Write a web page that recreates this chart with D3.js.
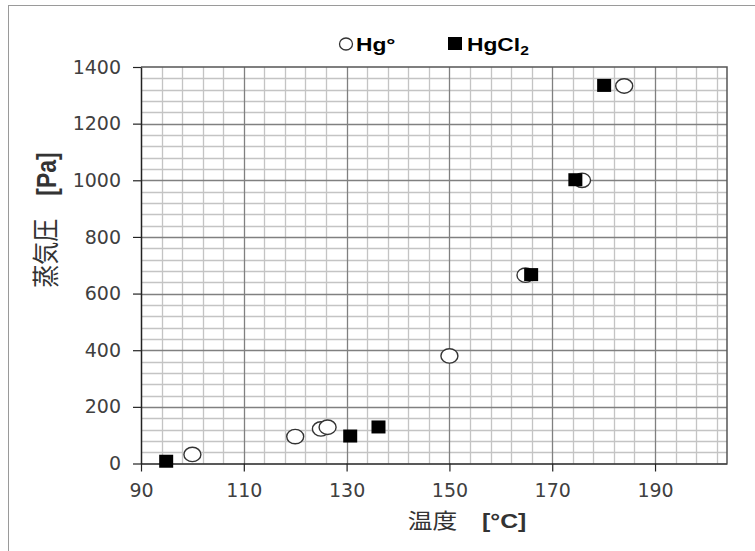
<!DOCTYPE html>
<html>
<head>
<meta charset="utf-8">
<script src="https://cdn.jsdelivr.net/npm/d3@7"></script>
<style>
  html, body { margin: 0; padding: 0; background: #fff; }
  svg { display: block; }
</style>
</head>
<body>
<svg id="chart" width="755" height="551"></svg>
<script>
// ---- data ----
const hgTemp   = [100, 120, 125, 126.3, 150, 164.8, 175.8, 184];
const hgPress  = [32, 95, 122, 128, 380, 665, 1000, 1333];
const hgcl2Temp  = [94.9, 130.7, 136.2, 165.9, 174.5, 180.1];
const hgcl2Press = [8, 97, 129, 667, 1002, 1335];
const xTicks = [90, 110, 130, 150, 170, 190];
const yTicks = [0, 200, 400, 600, 800, 1000, 1200, 1400];
const xTitle = "温度";
const xUnit = "[°C]";
const yTitle = "蒸気圧";
const yUnit = "[Pa]";

const svg = d3.select("#chart");
const L = 141, R = 727, T = 67, B = 463.5;
const x = d3.scaleLinear().domain([90, 204]).range([L, R]);
const y = d3.scaleLinear().domain([0, 1400]).range([B, T]);

// outer frame
svg.append("rect").attr("x", 8.5).attr("y", 5.5).attr("width", 760).attr("height", 560)
  .attr("fill", "none").attr("stroke", "#9a9a9a").attr("stroke-width", 1);

// grid
const g = svg.append("g");
const xMinor = d3.range(94, 204, 4).filter(v => (v - 90) % 20 !== 0);
const yMinor = d3.range(40, 1400, 40).filter(v => v % 200 !== 0);
g.selectAll(".xm").data(xMinor).enter().append("line")
  .attr("x1", d => Math.round(x(d)) + 0.5).attr("x2", d => Math.round(x(d)) + 0.5)
  .attr("y1", T).attr("y2", B).attr("stroke", "#c4c4c4").attr("stroke-width", 1.3);
g.selectAll(".ym").data(yMinor).enter().append("line")
  .attr("y1", d => Math.round(y(d)) + 0.5).attr("y2", d => Math.round(y(d)) + 0.5)
  .attr("x1", L).attr("x2", R).attr("stroke", "#c4c4c4").attr("stroke-width", 1.3);
g.selectAll(".xM").data(xTicks.filter(v => v !== 90)).enter().append("line")
  .attr("x1", d => Math.round(x(d)) + 0.5).attr("x2", d => Math.round(x(d)) + 0.5)
  .attr("y1", T).attr("y2", B).attr("stroke", "#808080").attr("stroke-width", 1.3);
g.selectAll(".yM").data(yTicks.filter(v => v !== 0 && v !== 1400)).enter().append("line")
  .attr("y1", d => Math.round(y(d)) + 0.5).attr("y2", d => Math.round(y(d)) + 0.5)
  .attr("x1", L).attr("x2", R).attr("stroke", "#808080").attr("stroke-width", 1.3);

// plot border (top/right)
svg.append("path").attr("d", `M${L},${T}H${R}V${B}`).attr("fill", "none")
  .attr("stroke", "#555").attr("stroke-width", 1.5);

// axes
const xAxis = d3.axisBottom(x).tickValues(xTicks).tickFormat(d3.format("d"))
  .tickSize(8).tickSizeOuter(0).tickPadding(12);
const yAxis = d3.axisLeft(y).tickValues(yTicks).tickFormat(d3.format("d"))
  .tickSize(8).tickSizeOuter(0).tickPadding(12);
const gx = svg.append("g").attr("transform", `translate(0,${B})`).call(xAxis);
const gy = svg.append("g").attr("transform", `translate(${L},0)`).call(yAxis);
[gx, gy].forEach(a => {
  a.select(".domain").attr("stroke", "#222").attr("stroke-width", 1.5);
  a.selectAll(".tick line").attr("stroke", "#222").attr("stroke-width", 1.2);
  a.selectAll(".tick text").attr("fill", "#404040")
    .style("font-family", "'DejaVu Sans', sans-serif").style("font-size", "19px");
});

// series
svg.append("g").selectAll("ellipse").data(hgTemp).enter().append("ellipse")
  .attr("cx", (d, i) => x(d)).attr("cy", (d, i) => y(hgPress[i]))
  .attr("rx", 8.5).attr("ry", 7.2).attr("fill", "#fff").attr("stroke", "#333").attr("stroke-width", 1.4);
svg.append("g").selectAll("rect").data(hgcl2Temp).enter().append("rect")
  .attr("x", (d, i) => x(d) - 7).attr("y", (d, i) => y(hgcl2Press[i]) - 6.5)
  .attr("width", 14).attr("height", 13).attr("fill", "#000");

// legend
const lg = svg.append("g").style("font-family", "'Liberation Sans', Arial, sans-serif")
  .style("font-weight", "bold").style("font-size", "19px").attr("fill", "#000");
lg.append("ellipse").attr("cx", 346).attr("cy", 44).attr("rx", 6.5).attr("ry", 6)
  .attr("fill", "#fff").attr("stroke", "#333").attr("stroke-width", 1.3);
lg.append("text").attr("transform", "translate(356,51) scale(1.2,1)").text("Hg°");
lg.append("rect").attr("x", 448).attr("y", 37).attr("width", 14).attr("height", 13).attr("fill", "#000");
const t2 = lg.append("text").attr("transform", "translate(467,51) scale(1.2,1)");
t2.append("tspan").text("HgCl");
t2.append("tspan").attr("dy", 4).style("font-size", "13px").text("2");

// axis titles
const xt = svg.append("text").attr("transform", "translate(467,528) scale(1.18,1)").attr("text-anchor", "middle")
  .attr("fill", "#333").style("font-size", "21px");
xt.append("tspan").style("font-family", "'Noto Sans CJK JP', sans-serif").text(xTitle + "\u3000");
xt.append("tspan").style("font-family", "'Liberation Sans', Arial, sans-serif").style("font-weight", "bold").text(xUnit);

const yt = svg.append("text").attr("transform", "translate(56,220) rotate(-90) scale(1,1.18)").attr("text-anchor", "middle")
  .attr("fill", "#333").style("font-size", "23px");
yt.append("tspan").style("font-family", "'Noto Sans CJK JP', sans-serif").text(yTitle + "\u3000");
yt.append("tspan").style("font-family", "'Liberation Sans', Arial, sans-serif").style("font-weight", "bold").text(yUnit);
</script>
</body>
</html>
